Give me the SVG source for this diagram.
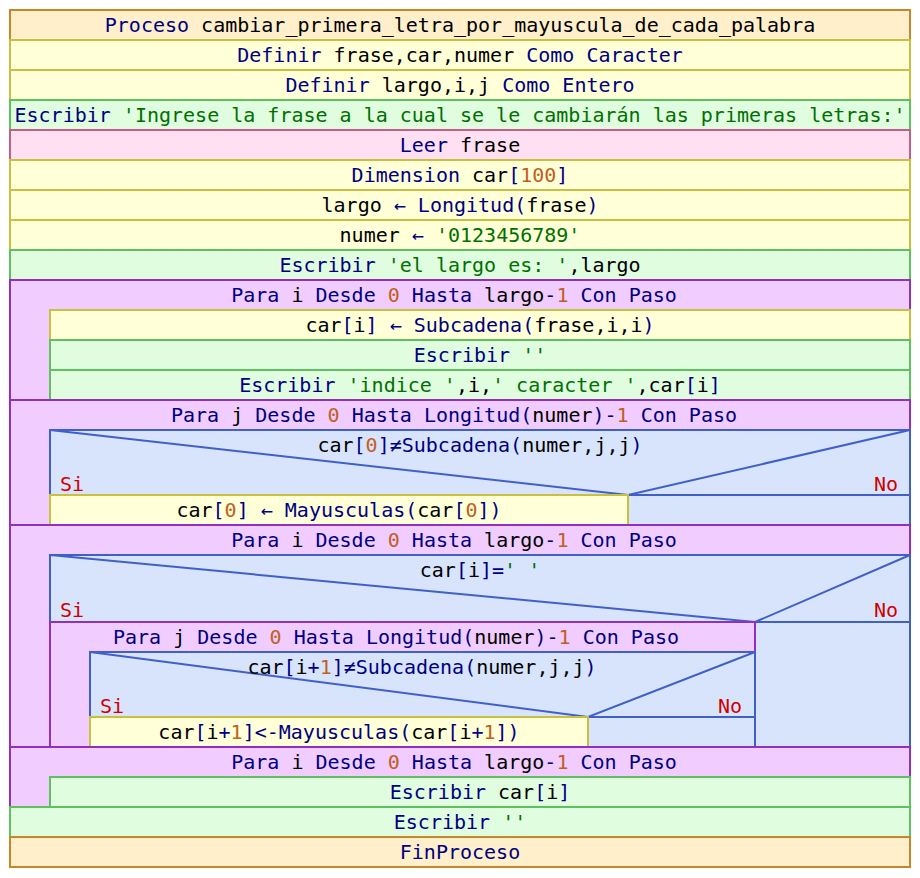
<svg xmlns="http://www.w3.org/2000/svg" width="920" height="878" viewBox="0 0 920 878">
  <style>
    text { font-family: "DejaVu Sans Mono", "Liberation Mono", monospace; font-size: 20px; fill: #000000; }
    .c { text-anchor: middle; }
    .e { text-anchor: end; }
    .k { fill: #000080; }
    .s { fill: #007000; }
    .n { fill: #c06020; }
    .r { fill: #d00000; }
    rect, line, polyline { stroke-width: 2; }
    .proc { fill: #ffefca; stroke: #c8862a; }
    .asig { fill: #ffffd8; stroke: #c8c040; }
    .esc { fill: #e0fde0; stroke: #60c060; }
    .leer { fill: #ffe0f2; stroke: #c06088; }
    .para { fill: #f0ccff; stroke: #9030c0; }
    .si { fill: #d8e4fc; stroke: #4060c8; }
    .diag { fill: none; stroke: #4060c8; }
  </style>

  <g id="proceso">
    <rect class="proc" x="10" y="10" width="900" height="30"/>
    <text class="c" x="460" y="32"><tspan class="k">Proceso</tspan> cambiar_primera_letra_por_mayuscula_de_cada_palabra</text>
  </g>
  <g id="definir1">
    <rect class="asig" x="10" y="40" width="900" height="30"/>
    <text class="c" x="460" y="62"><tspan class="k">Definir</tspan> frase,car,numer <tspan class="k">Como Caracter</tspan></text>
  </g>
  <g id="definir2">
    <rect class="asig" x="10" y="70" width="900" height="30"/>
    <text class="c" x="460" y="92"><tspan class="k">Definir</tspan> largo,i,j <tspan class="k">Como Entero</tspan></text>
  </g>
  <g id="escribir-ingrese">
    <rect class="esc" x="10" y="100" width="900" height="30"/>
    <text class="c" x="460" y="122"><tspan class="k">Escribir</tspan> <tspan class="s">'Ingrese la frase a la cual se le cambiarán las primeras letras:'</tspan></text>
  </g>
  <g id="leer-frase">
    <rect class="leer" x="10" y="130" width="900" height="30"/>
    <text class="c" x="460" y="152"><tspan class="k">Leer</tspan> frase</text>
  </g>
  <g id="dimension">
    <rect class="asig" x="10" y="160" width="900" height="30"/>
    <text class="c" x="460" y="182"><tspan class="k">Dimension</tspan> car<tspan class="k">[</tspan><tspan class="n">100</tspan><tspan class="k">]</tspan></text>
  </g>
  <g id="asig-largo">
    <rect class="asig" x="10" y="190" width="900" height="30"/>
    <text class="c" x="460" y="212">largo <tspan class="k">← Longitud(</tspan>frase<tspan class="k">)</tspan></text>
  </g>
  <g id="asig-numer">
    <rect class="asig" x="10" y="220" width="900" height="30"/>
    <text class="c" x="460" y="242">numer <tspan class="k">←</tspan> <tspan class="s">'0123456789'</tspan></text>
  </g>
  <g id="escribir-largo">
    <rect class="esc" x="10" y="250" width="900" height="30"/>
    <text class="c" x="460" y="272"><tspan class="k">Escribir</tspan> <tspan class="s">'el largo es: '</tspan>,largo</text>
  </g>

  <!-- first loop: split the phrase into characters -->
  <g id="para-i-1">
    <rect class="para" x="10" y="280" width="900" height="120"/>
    <text class="c" x="454" y="302"><tspan class="k">Para</tspan> i <tspan class="k">Desde</tspan> <tspan class="n">0</tspan> <tspan class="k">Hasta</tspan> largo<tspan class="k">-</tspan><tspan class="n">1</tspan> <tspan class="k">Con Paso</tspan></text>
  </g>
  <g id="asig-subcadena">
    <rect class="asig" x="50" y="310" width="860" height="30"/>
    <text class="c" x="480" y="332">car<tspan class="k">[</tspan>i<tspan class="k">] ← Subcadena(</tspan>frase,i,i<tspan class="k">)</tspan></text>
  </g>
  <g id="escribir-vacio-1">
    <rect class="esc" x="50" y="340" width="860" height="30"/>
    <text class="c" x="480" y="362"><tspan class="k">Escribir</tspan> <tspan class="s">''</tspan></text>
  </g>
  <g id="escribir-indice">
    <rect class="esc" x="50" y="370" width="860" height="30"/>
    <text class="c" x="480" y="392"><tspan class="k">Escribir</tspan> <tspan class="s">'indice '</tspan>,i,<tspan class="s">' caracter '</tspan>,car<tspan class="k">[</tspan>i<tspan class="k">]</tspan></text>
  </g>

  <!-- second loop: capitalise the first letter -->
  <g id="para-j-1">
    <rect class="para" x="10" y="400" width="900" height="125"/>
    <text class="c" x="454" y="422"><tspan class="k">Para</tspan> j <tspan class="k">Desde</tspan> <tspan class="n">0</tspan> <tspan class="k">Hasta Longitud(</tspan>numer<tspan class="k">)-</tspan><tspan class="n">1</tspan> <tspan class="k">Con Paso</tspan></text>
  </g>
  <g id="si-1">
    <rect class="si" x="50" y="430" width="860" height="95"/>
    <polyline class="diag" points="50,430 628,495 910,430"/>
    <text class="c" x="480" y="452">car<tspan class="k">[</tspan><tspan class="n">0</tspan><tspan class="k">]≠Subcadena(</tspan>numer,j,j<tspan class="k">)</tspan></text>
    <text class="r" x="60" y="491">Si</text>
    <text class="r e" x="898" y="491">No</text>
    <rect class="si" x="628" y="495" width="282" height="30"/>
  </g>
  <g id="asig-mayus-0">
    <rect class="asig" x="50" y="495" width="578" height="30"/>
    <text class="c" x="339" y="517">car<tspan class="k">[</tspan><tspan class="n">0</tspan><tspan class="k">] ← Mayusculas(</tspan>car<tspan class="k">[</tspan><tspan class="n">0</tspan><tspan class="k">])</tspan></text>
  </g>

  <!-- third loop: capitalise the letter after each space -->
  <g id="para-i-2">
    <rect class="para" x="10" y="525" width="900" height="222"/>
    <text class="c" x="454" y="547"><tspan class="k">Para</tspan> i <tspan class="k">Desde</tspan> <tspan class="n">0</tspan> <tspan class="k">Hasta</tspan> largo<tspan class="k">-</tspan><tspan class="n">1</tspan> <tspan class="k">Con Paso</tspan></text>
  </g>
  <g id="si-2">
    <rect class="si" x="50" y="555" width="860" height="192"/>
    <polyline class="diag" points="50,555 755,622 910,555"/>
    <text class="c" x="480" y="577">car<tspan class="k">[</tspan>i<tspan class="k">]=</tspan><tspan class="s">' '</tspan></text>
    <text class="r" x="60" y="617">Si</text>
    <text class="r e" x="898" y="617">No</text>
    <rect class="si" x="755" y="622" width="155" height="125"/>
  </g>
  <g id="para-j-2">
    <rect class="para" x="50" y="622" width="705" height="125"/>
    <text class="c" x="396" y="644"><tspan class="k">Para</tspan> j <tspan class="k">Desde</tspan> <tspan class="n">0</tspan> <tspan class="k">Hasta Longitud(</tspan>numer<tspan class="k">)-</tspan><tspan class="n">1</tspan> <tspan class="k">Con Paso</tspan></text>
  </g>
  <g id="si-3">
    <rect class="si" x="90" y="652" width="665" height="95"/>
    <polyline class="diag" points="90,652 588,717 755,652"/>
    <text class="c" x="422" y="674">car<tspan class="k">[</tspan>i<tspan class="k">+</tspan><tspan class="n">1</tspan><tspan class="k">]≠Subcadena(</tspan>numer,j,j<tspan class="k">)</tspan></text>
    <text class="r" x="100" y="713">Si</text>
    <text class="r e" x="742" y="713">No</text>
    <rect class="si" x="588" y="717" width="167" height="30"/>
  </g>
  <g id="asig-mayus-i1">
    <rect class="asig" x="90" y="717" width="498" height="30"/>
    <text class="c" x="339" y="739">car<tspan class="k">[</tspan>i<tspan class="k">+</tspan><tspan class="n">1</tspan><tspan class="k">]&lt;-Mayusculas(</tspan>car<tspan class="k">[</tspan>i<tspan class="k">+</tspan><tspan class="n">1</tspan><tspan class="k">])</tspan></text>
  </g>

  <!-- fourth loop: print the result -->
  <g id="para-i-3">
    <rect class="para" x="10" y="747" width="900" height="60"/>
    <text class="c" x="454" y="769"><tspan class="k">Para</tspan> i <tspan class="k">Desde</tspan> <tspan class="n">0</tspan> <tspan class="k">Hasta</tspan> largo<tspan class="k">-</tspan><tspan class="n">1</tspan> <tspan class="k">Con Paso</tspan></text>
  </g>
  <g id="escribir-car">
    <rect class="esc" x="50" y="777" width="860" height="30"/>
    <text class="c" x="480" y="799"><tspan class="k">Escribir</tspan> car<tspan class="k">[</tspan>i<tspan class="k">]</tspan></text>
  </g>
  <g id="escribir-vacio-2">
    <rect class="esc" x="10" y="807" width="900" height="30"/>
    <text class="c" x="460" y="829"><tspan class="k">Escribir</tspan> <tspan class="s">''</tspan></text>
  </g>
  <g id="fin-proceso">
    <rect class="proc" x="10" y="837" width="900" height="30"/>
    <text class="c" x="460" y="859"><tspan class="k">FinProceso</tspan></text>
  </g>
</svg>
